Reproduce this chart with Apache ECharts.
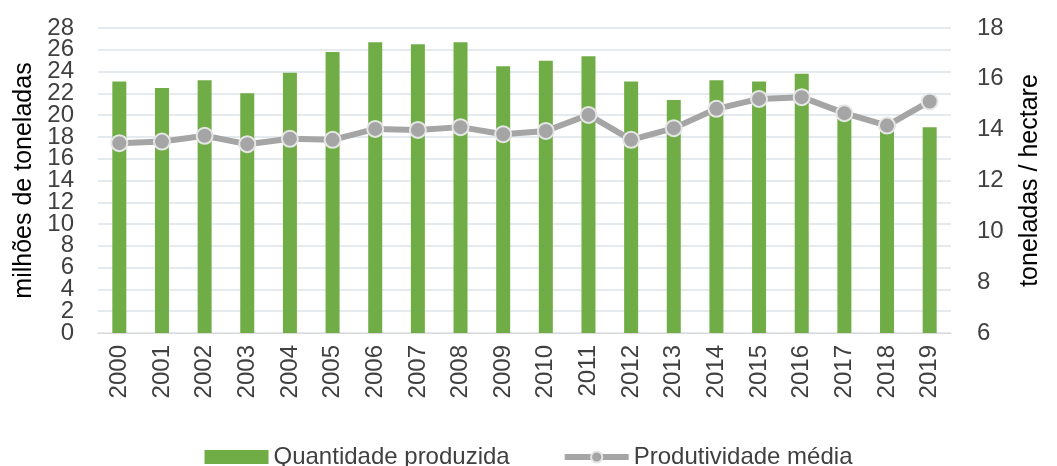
<!DOCTYPE html>
<html>
<head>
<meta charset="utf-8">
<script src="https://cdn.jsdelivr.net/npm/echarts@6/dist/echarts.min.js"></script>
<style>
  html, body { margin: 0; padding: 0; background: #fff; }
  #chart { width: 1057px; height: 466px; }
</style>
</head>
<body>
<div id="chart"></div>
<script>
// anos
var anos = ['2000','2001','2002','2003','2004','2005','2006','2007','2008','2009',
            '2010','2011','2012','2013','2014','2015','2016','2017','2018','2019'];
// milhões de toneladas
var quantidade = [23.1, 22.5, 23.2, 22.0, 23.9, 25.8, 26.7, 26.5, 26.7, 24.5,
                  25.0, 25.4, 23.1, 21.4, 23.2, 23.1, 23.8, 19.9, 19.2, 18.9];
// toneladas / hectare
var produtividade = [13.47, 13.53, 13.76, 13.43, 13.64, 13.6, 14.03, 13.99, 14.1, 13.82,
                     13.95, 14.58, 13.6, 14.06, 14.82, 15.21, 15.28, 14.65, 14.16, 15.11];
// marcas do eixo da esquerda (divididas em dois eixos para não esconder rótulos)
var ticksPares = [0, 4, 8, 12, 16, 20, 24, 28];
var ticksImpares = [2, 6, 10, 14, 18, 22, 26];

var fonte = '"Liberation Sans", Arial, sans-serif';
var corTexto = '#404040';

var myChart = echarts.init(document.getElementById('chart'));

var rotuloEsq = function (valores) {
    return {
        fontSize: 24, color: corTexto, margin: 24, hideOverlap: false,
        showMinLabel: true, showMaxLabel: true,
        customValues: valores
    };
};

var option = {
    animation: false,
    textStyle: { fontFamily: fonte },
    grid: { left: 98, right: 106, top: 28, bottom: 133, containLabel: false, outerBoundsMode: 'none' },
    legend: {
        top: 440,
        left: 'center',
        itemGap: 52,
        itemWidth: 64,
        itemHeight: 14,
        textStyle: { fontSize: 24, color: corTexto, fontFamily: fonte },
        data: [
            { name: 'Quantidade produzida', icon: 'rect' },
            { name: 'Produtividade média', lineStyle: { width: 6, color: '#A5A5A5' } }
        ]
    },
    xAxis: {
        type: 'category',
        data: anos,
        axisTick: { show: false },
        axisLine: { lineStyle: { color: '#D9D9D9', width: 1 } },
        axisLabel: { rotate: 90, fontSize: 24, color: corTexto, margin: 12 }
    },
    yAxis: [
        {
            type: 'value',
            position: 'left',
            min: 0, max: 28, interval: 2,
            name: 'milhões de toneladas',
            nameLocation: 'middle',
            nameGap: 60,
            nameTextStyle: { fontSize: 25, color: '#000' },
            axisLabel: rotuloEsq(ticksPares),
            splitLine: { lineStyle: { color: '#DDE3EA', width: 1.5 } }
        },
        {
            type: 'value',
            position: 'left',
            offset: 0,
            min: 0, max: 28, interval: 2,
            axisLine: { show: false },
            axisTick: { show: false },
            axisLabel: rotuloEsq(ticksImpares),
            splitLine: { show: false }
        },
        {
            type: 'value',
            position: 'right',
            min: 6, max: 18, interval: 2,
            name: 'toneladas / hectare',
            nameLocation: 'middle',
            nameGap: 67,
            nameTextStyle: { fontSize: 25, color: '#000' },
            axisLabel: { fontSize: 24, color: corTexto, margin: 26, hideOverlap: false,
                         showMinLabel: true, showMaxLabel: true },
            splitLine: { show: false }
        }
    ],
    series: [
        {
            name: 'Quantidade produzida',
            type: 'bar',
            yAxisIndex: 0,
            data: quantidade,
            barWidth: 14,
            itemStyle: { color: '#70AD47' }
        },
        {
            name: 'Produtividade média',
            type: 'line',
            yAxisIndex: 2,
            data: produtividade,
            symbol: 'circle',
            symbolSize: 16,
            lineStyle: { color: '#A5A5A5', width: 6 },
            itemStyle: { color: '#A5A5A5', borderColor: '#E6E6E6', borderWidth: 2 }
        }
    ]
};
myChart.setOption(option);
</script>
</body>
</html>
